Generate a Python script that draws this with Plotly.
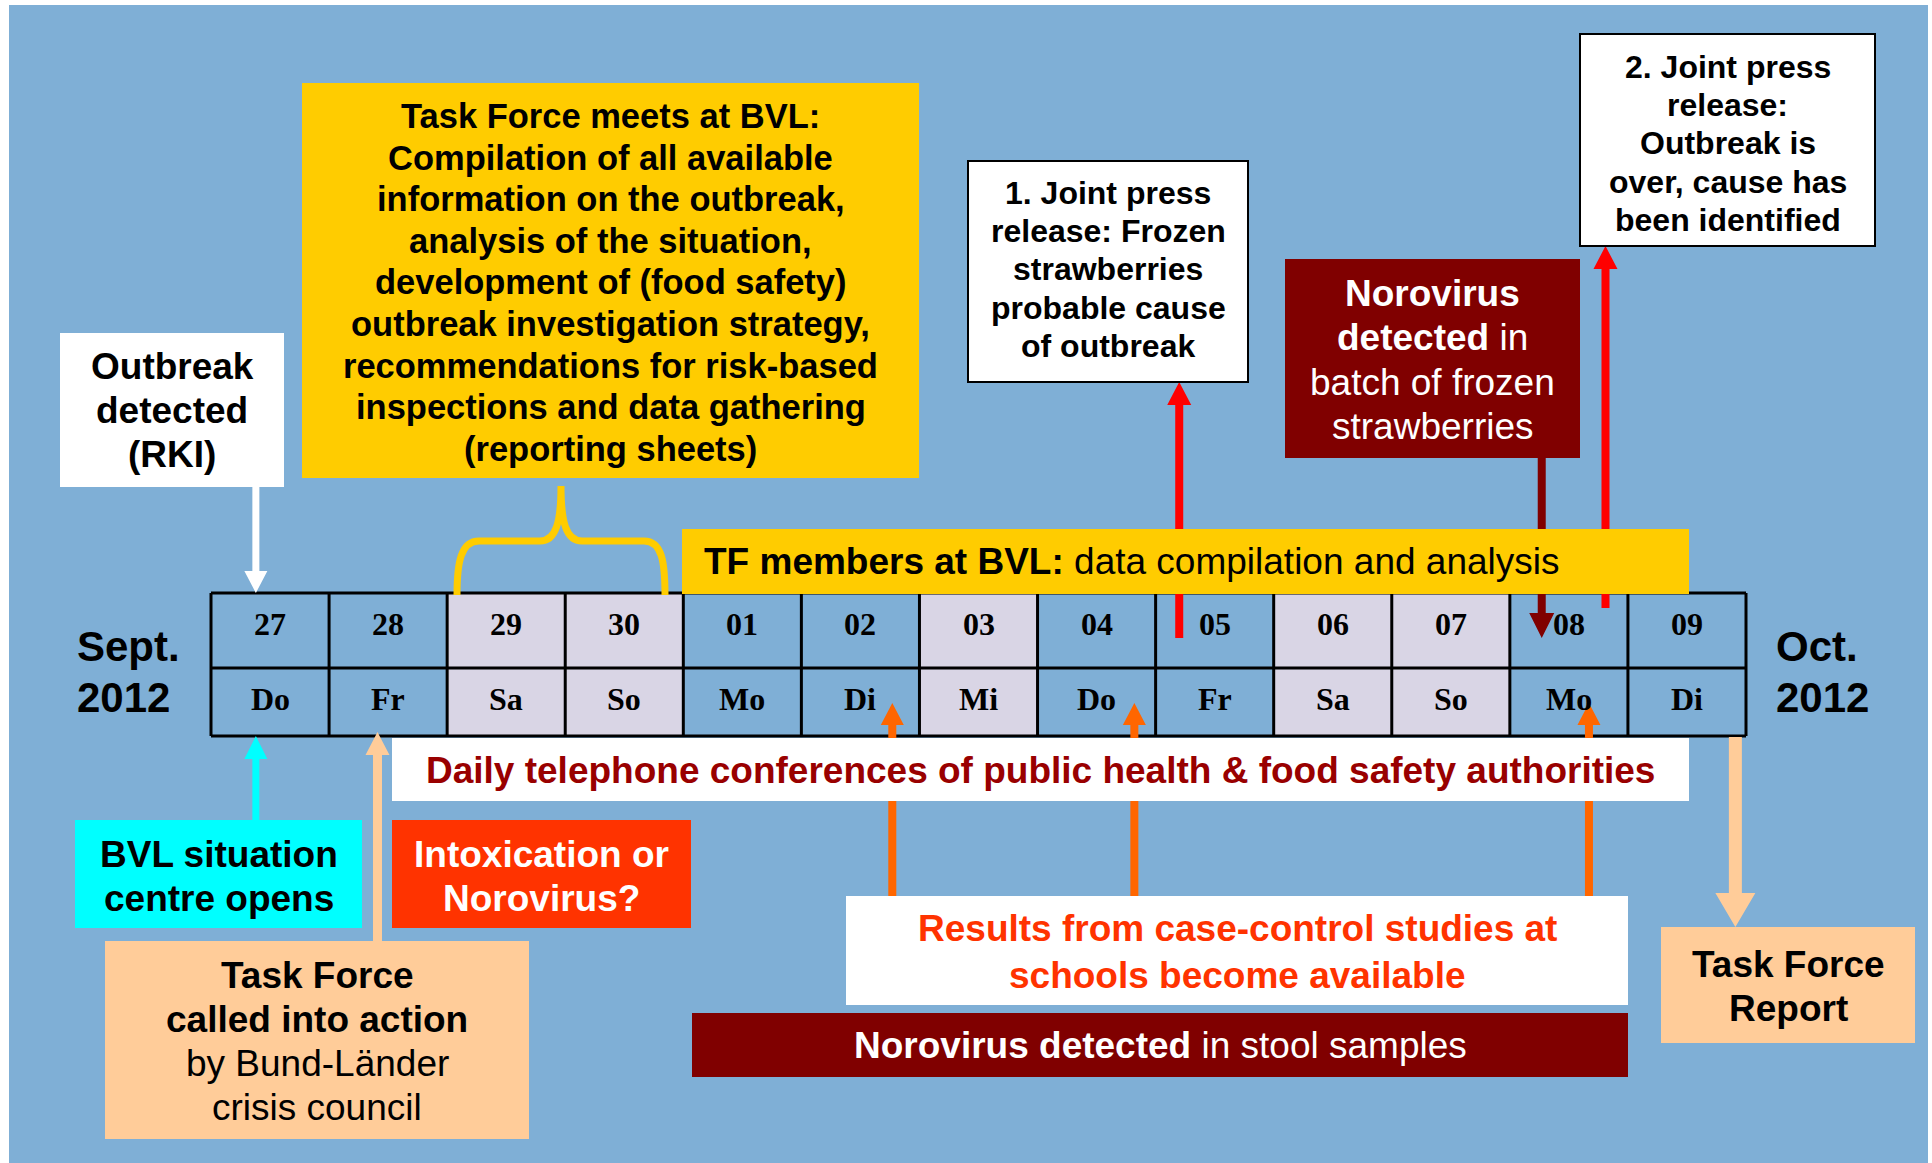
import plotly.graph_objects as go

# ---------------- data ----------------
days = ["27", "28", "29", "30", "01", "02", "03", "04", "05", "06", "07", "08", "09"]
weekdays = ["Do", "Fr", "Sa", "So", "Mo", "Di", "Mi", "Do", "Fr", "Sa", "So", "Mo", "Di"]
day_off = [False, False, True, True, False, False, True, False, False, True, True, False, False]

month_left = ["Sept.", "2012"]
month_right = ["Oct.", "2012"]

tf_meeting_lines = [
    "Task Force meets at BVL:",
    "Compilation of all available",
    "information on the outbreak,",
    "analysis of the situation,",
    "development of (food safety)",
    "outbreak investigation strategy,",
    "recommendations for risk-based",
    "inspections and data gathering",
    "(reporting sheets)",
]
outbreak_lines = ["Outbreak", "detected", "(RKI)"]
press1_lines = ["1. Joint press", "release: Frozen", "strawberries", "probable cause", "of outbreak"]
press2_lines = ["2. Joint press", "release:", "Outbreak is", "over, cause has", "been identified"]
noro_batch_lines = ["<b>Norovirus</b>", "<b>detected</b> in", "batch of frozen", "strawberries"]
tf_bar_text = "<b>TF members at BVL:</b> data compilation and analysis"
phone_text = "<b>Daily telephone conferences of public health &amp; food safety authorities</b>"
bvl_lines = ["<b>BVL situation</b>", "<b>centre opens</b>"]
intox_lines = ["<b>Intoxication or</b>", "<b>Norovirus?</b>"]
tf_called_lines = ["<b>Task Force</b>", "<b>called into action</b>", "by Bund-Länder", "crisis council"]
results_lines = ["<b>Results from case-control studies at</b>", "<b>schools become available</b>"]
stool_text = "<b>Norovirus detected</b> in stool samples"
report_lines = ["<b>Task Force</b>", "<b>Report</b>"]

# ---------------- styles ----------------
W, H = 1932, 1163
BG = "#7FAFD6"
LAV = "#D9D5E5"
YEL = "#FFCC00"
DRED = "#800000"
RED = "#FF0000"
ORG = "#FF6600"
ROR = "#FF3300"
CYAN = "#00FFFF"
PEACH = "#FFCC99"
SANS = "Liberation Sans, Arial, sans-serif"
SERIF = "Liberation Serif, Times New Roman, serif"

GX0, GX1 = 211, 1746
GY0, GYM, GY1 = 593, 668, 736
CW = (GX1 - GX0) / len(days)


def col_x(i, frac=0.5):
    return GX0 + CW * (i + frac)


fig = go.Figure()
shapes = []
annos = []


def rect(x0, y0, x1, y1, fill, line_color=None, lw=0):
    shapes.append(dict(type="rect", xref="x", yref="y", x0=x0, y0=y0, x1=x1, y1=y1,
                       fillcolor=fill, line=dict(color=line_color or fill, width=lw),
                       layer="above"))


def varrow(x, y_tail, y_tip, color, shaft=8, head_w=24, head_len=23):
    d = 1 if y_tip > y_tail else -1
    yb = y_tip - d * head_len
    p = (f"M {x - shaft / 2},{y_tail} L {x - shaft / 2},{yb} L {x - head_w / 2},{yb} "
         f"L {x},{y_tip} L {x + head_w / 2},{yb} L {x + shaft / 2},{yb} L {x + shaft / 2},{y_tail} Z")
    shapes.append(dict(type="path", xref="x", yref="y", path=p, fillcolor=color,
                       line=dict(width=0), layer="above"))


def text(x, y, s, size=37, color="black", family=SANS, xanchor="center"):
    annos.append(dict(x=x, y=y, xref="x", yref="y", text=s, showarrow=False,
                      xanchor=xanchor, yanchor="middle",
                      font=dict(family=family, size=size, color=color)))


def lines(xc, y_first, step, items, size=37, color="black", bold=False):
    for k, s in enumerate(items):
        text(xc, y_first + k * step, f"<b>{s}</b>" if bold else s, size=size, color=color)


# background
rect(9, 5, 1928, H + 5, BG)

# calendar cells
for i in range(len(days)):
    fill = LAV if day_off[i] else BG
    rect(GX0 + CW * i, GY0, GX0 + CW * (i + 1), GY1, fill)
for i in range(len(days) + 1):
    x = GX0 + CW * i
    shapes.append(dict(type="line", xref="x", yref="y", x0=x, x1=x, y0=GY0, y1=GY1,
                       line=dict(color="black", width=3), layer="above"))
for y in (GY0, GYM, GY1):
    shapes.append(dict(type="line", xref="x", yref="y", x0=GX0, x1=GX1, y0=y, y1=y,
                       line=dict(color="black", width=3), layer="above"))

# arrows (drawn under the boxes)
varrow(col_x(8, 0.20), 638, 382, RED, shaft=8, head_w=24, head_len=23)
varrow(col_x(11, 0.81), 608, 246, RED, shaft=8, head_w=24, head_len=23)
varrow(col_x(11, 0.27), 458, 638, DRED, shaft=8, head_w=25, head_len=25)
for i, frac in ((5, 0.77), (7, 0.82), (11, 0.67)):
    varrow(col_x(i, frac), 896, 703, ORG, shaft=8, head_w=23, head_len=22)
varrow(col_x(0, 0.38), 487, 593, "white", shaft=7, head_w=23, head_len=22)
varrow(col_x(0, 0.38), 820, 736, CYAN, shaft=7, head_w=23, head_len=23)
varrow(col_x(1, 0.41), 941, 732, PEACH, shaft=9, head_w=24, head_len=23)
varrow(col_x(12, 0.91), 737, 927, PEACH, shaft=13, head_w=40, head_len=34)

# yellow elements
rect(682, 529, 1689, 594, YEL)
rect(302, 83, 919, 478, YEL)
shapes.append(dict(type="path", xref="x", yref="y", layer="above",
                   path=("M 457,595 C 457,562 461,541 479,541 L 540,541 "
                         "C 556,541 561,522 561,486 C 561,522 566,541 582,541 "
                         "L 644,541 C 662,541 665,562 665,595"),
                   line=dict(color=YEL, width=7)))

# boxes
rect(60, 333, 284, 487, "white")
rect(968, 161, 1248, 382, "white", "black", 2)
rect(1580, 34, 1875, 246, "white", "black", 2)
rect(1285, 259, 1580, 458, DRED)
rect(392, 738, 1689, 801, "white")
rect(75, 820, 362, 928, CYAN)
rect(392, 820, 691, 928, ROR)
rect(105, 941, 529, 1139, PEACH)
rect(846, 896, 1628, 1005, "white")
rect(692, 1013, 1628, 1077, DRED)
rect(1661, 927, 1915, 1043, PEACH)

# calendar text
for i in range(len(days)):
    text(col_x(i), 624, f"<b>{days[i]}</b>", size=32, family=SERIF)
    text(col_x(i), 699, f"<b>{weekdays[i]}</b>", size=32, family=SERIF)

# month labels
for k, s in enumerate(month_left):
    text(75, 646 + 51 * k, f"<b>{s}</b>", size=42, xanchor="left")
for k, s in enumerate(month_right):
    text(1774, 646 + 51 * k, f"<b>{s}</b>", size=42, xanchor="left")

# box texts
lines(610.5, 116, 41.6, tf_meeting_lines, size=34.5, bold=True)
lines(172, 366, 44, outbreak_lines, size=37, bold=True)
lines(1108, 193, 38.2, press1_lines, size=32, bold=True)
lines(1727.5, 67, 38.2, press2_lines, size=32, bold=True)
lines(1432.5, 293, 44.6, noro_batch_lines, size=37, color="white")
text(702, 561, tf_bar_text, size=37, xanchor="left")
text(1040.5, 770, phone_text, size=37, color="#990000")
lines(218.5, 854, 44.5, bvl_lines, size=37)
lines(541.5, 854, 44.5, intox_lines, size=37, color="white")
lines(317, 975, 44.3, tf_called_lines, size=37)
lines(1237, 928, 47, results_lines, size=37, color=ROR)
text(1160, 1045, stool_text, size=37, color="white")
lines(1788, 964, 44.5, report_lines, size=37)

fig.update_layout(
    width=W, height=H,
    margin=dict(l=0, r=0, t=0, b=0),
    paper_bgcolor="white", plot_bgcolor="white",
    showlegend=False,
    xaxis=dict(range=[0, W], visible=False, fixedrange=True),
    yaxis=dict(range=[H, 0], visible=False, fixedrange=True),
    shapes=shapes, annotations=annos,
)

fig.write_html("out.html", config={"displayModeBar": False},
               post_script="document.body.style.margin='0';document.body.style.overflow='hidden';")
